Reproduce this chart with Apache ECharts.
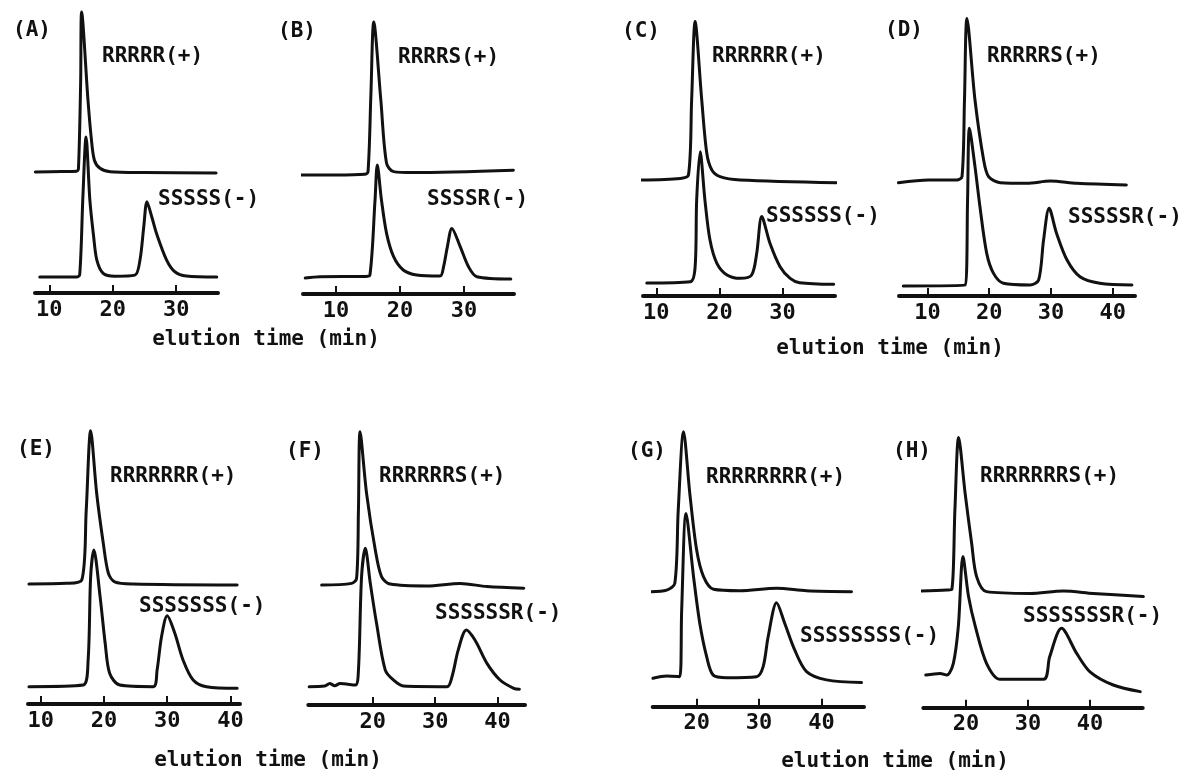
<!DOCTYPE html>
<html>
<head>
<meta charset="utf-8">
<script src="https://cdn.jsdelivr.net/npm/echarts@6/dist/echarts.min.js"></script>
<style>
  html, body { margin: 0; padding: 0; background: #fff; }
  #chart { width: 1186px; height: 777px; }
</style>
</head>
<body>
<div id="chart"></div>
<script>
// ---------------- DATA (elution time in min, detector signal in arbitrary units) ----------------
const panelNames = ['(A)', '(B)', '(C)', '(D)', '(E)', '(F)', '(G)', '(H)'];
const plusLabels = ['RRRRR(+)', 'RRRRS(+)', 'RRRRRR(+)', 'RRRRRS(+)', 'RRRRRRR(+)', 'RRRRRRS(+)', 'RRRRRRRR(+)', 'RRRRRRRS(+)'];
const minusLabels = ['SSSSS(-)', 'SSSSR(-)', 'SSSSSS(-)', 'SSSSSR(-)', 'SSSSSSS(-)', 'SSSSSSR(-)', 'SSSSSSSS(-)', 'SSSSSSSR(-)'];
const axisTitle = 'elution time (min)';

const ticksA = [10, 20, 30];
const ticksB = [10, 20, 30];
const ticksC = [10, 20, 30];
const ticksD = [10, 20, 30, 40];
const ticksE = [10, 20, 30, 40];
const ticksF = [20, 30, 40];
const ticksG = [20, 30, 40];
const ticksH = [20, 30, 40];

const A_plus = [[7.8,0],[12,0.3],[14.3,0.5],[14.6,2],[14.95,57],[15.1,100],[16.1,45],[16.6,22],[17.1,7.5],[18,2.3],[19.6,0.2],[25,-0.3],[36.3,-0.6]];
const A_minus = [[8.5,0],[14.3,0],[14.8,1.5],[15.3,50],[15.8,87.5],[16.4,48],[17.0,25],[17.5,10.6],[18.5,2.3],[20.3,0.5],[23.5,1.2],[24.3,10.6],[24.9,31.5],[25.4,47],[26.2,37],[26.9,27.3],[28.5,10.6],[29.8,3.3],[31.6,0.6],[36.4,0]];

const B_plus = [[4.1,0],[10,0],[14.5,0.5],[15.0,2],[15.45,50],[15.9,95.6],[17.0,46.9],[17.9,7.3],[19.0,2.1],[22.1,1.5],[37.7,3]];
const B_minus = [[5.2,0],[7.5,0.8],[14.5,1],[15.3,1.9],[16.1,48.8],[16.45,70.6],[17.1,48.8],[17.9,27.9],[19.0,13.3],[20.5,5],[22.6,1.9],[26.25,1.25],[26.8,7],[27.4,19.6],[28.1,31],[29.4,19.6],[30.7,7],[32,0.8],[37.3,-0.6]];

const C_plus = [[7.5,0],[13.8,1.0],[15.1,3.1],[15.6,50],[16.15,99],[17.2,50],[18.0,16.7],[18.8,6.25],[20.1,2.1],[23.3,0],[38.5,-1.7]];
const C_minus = [[8.5,0],[15.4,0.8],[16.15,10],[16.4,52],[16.95,82],[17.7,52],[18.5,27],[19.6,12.3],[21.2,5],[23.3,2.9],[25.1,5],[25.9,18.5],[26.7,41.5],[28.0,24.8],[29.6,10.2],[31.2,2.9],[32.7,0.2],[38.1,-0.8]];

const D_plus = [[5.3,0],[10.2,1.7],[14.75,1.7],[15.6,3.8],[16.0,51.7],[16.4,102.7],[17.7,51.7],[19.1,14.2],[19.9,3.75],[21.8,0],[26.1,-0.4],[29.9,1.0],[34.2,-0.4],[42.2,-1.4]];
const D_minus = [[6.1,0],[16.1,0.6],[16.5,53.75],[16.8,98.6],[17.7,74.6],[18.5,49.6],[19.6,20.4],[20.7,7.9],[22.3,1.7],[26.6,0.6],[28.0,3.75],[28.8,28.75],[29.7,48.6],[30.9,33],[32.6,16.25],[34.7,5.8],[37.9,1.7],[43.1,0.6]];

const E_plus = [[8.15,0],[14.1,0.4],[16.5,2.5],[17.2,46],[17.9,95.8],[18.85,56.7],[19.9,25.4],[20.7,6.7],[21.7,1.4],[24.6,0],[41.05,-0.6]];
const E_minus = [[8.15,0],[16.7,1],[17.5,16.7],[17.9,68.75],[18.4,85.4],[19.4,56],[20.2,27],[20.9,8.4],[22.5,1],[27.8,0],[28.4,10.4],[29.1,31.25],[30.0,44.4],[31.2,33.4],[32.5,16.7],[34.1,4.2],[36.2,0],[41.05,-1]];

const F_plus = [[11.8,0],[16.6,1],[17.4,4.2],[17.7,47],[17.96,95.8],[19.0,57.3],[20.4,21.9],[21.4,5.2],[22.8,0.6],[28.7,-0.6],[34.0,1],[38.3,-1],[44.2,-2]];
const F_minus = [[9.8,0],[12.3,0.4],[13.1,2],[13.9,0.6],[14.75,2],[17.2,1],[17.7,10.4],[18.2,68.75],[18.8,86.5],[19.6,64.6],[20.6,39.6],[22.0,10.4],[23.3,4.2],[24.9,0.4],[31.9,0],[32.7,6.25],[33.7,23],[35.0,35.4],[36.4,29],[38.3,14.6],[40.4,4.2],[42.6,-1],[43.5,-1.6]];

const G_plus = [[12.5,0],[15.2,1],[16.5,5.2],[17.05,51],[17.9,100],[18.9,61.5],[20,26],[21.1,9.4],[22.7,1.5],[26.9,0.6],[32.8,2.1],[37.6,0.6],[44.8,0]];
const G_minus = [[13,0],[15.2,1.4],[17.3,1],[17.6,42.7],[18.3,103],[19.5,63.5],[20.5,34.4],[21.6,13.5],[22.65,2],[24.8,0.4],[29.6,1],[30.65,7.25],[31.45,26],[32.8,47.25],[34.1,34.4],[35.7,17.7],[37.6,4.2],[40.8,-1],[46.4,-2.7]];

const H_plus = [[12.3,0],[16.9,0.6],[17.7,1],[18.2,50.6],[18.8,96],[19.85,61],[20.9,29.8],[21.7,9],[23.3,-0.4],[30.3,-1.5],[35.7,0],[40.5,-1.5],[48.6,-3.5]];
const H_minus = [[13.5,0],[15.8,1],[16.9,0],[17.95,7.3],[18.75,30.2],[19.5,74],[20.4,49],[21.5,30.2],[23.3,7.3],[25.5,-2.7],[32.5,-2.7],[33.5,11.5],[35.4,29.2],[37.85,13.5],[40,2],[43.75,-6.25],[48.1,-10.4]];

const plusTraces = [A_plus, B_plus, C_plus, D_plus, E_plus, F_plus, G_plus, H_plus];
const minusTraces = [A_minus, B_minus, C_minus, D_minus, E_minus, F_minus, G_minus, H_minus];
const tickSets = [ticksA, ticksB, ticksC, ticksD, ticksE, ticksF, ticksG, ticksH];

// ---------------- LAYOUT (pixels) ----------------
const W = 1186, H = 777;
const K = 1.6; // px per signal unit
const layout = [
  { x0: 35,    x1: 218,    min: 7.75,  max: 36.6, axisY: 293,   upBL: 172,   loBL: 277 },
  { x0: 303,   x1: 514,    min: 4.85,  max: 37.8, axisY: 294,   upBL: 175,   loBL: 278 },
  { x0: 643,   x1: 835,    min: 7.9,   max: 38.3, axisY: 296,   upBL: 180,   loBL: 283 },
  { x0: 899,   x1: 1135,   min: 5.4,   max: 43.6, axisY: 296,   upBL: 182.7, loBL: 286 },
  { x0: 28,    x1: 240,    min: 8.0,   max: 41.5, axisY: 704,   upBL: 584,   loBL: 686.7 },
  { x0: 308.3, x1: 525,    min: 9.66,  max: 44.4, axisY: 705,   upBL: 585,   loBL: 686.7 },
  { x0: 652.7, x1: 864,    min: 12.96, max: 46.8, axisY: 706.7, upBL: 591.7, loBL: 678.3 },
  { x0: 923.3, x1: 1142.7, min: 13.1,  max: 48.5, axisY: 707.7, upBL: 591,   loBL: 675 }
];
const letterPos = [[13,31],[278,32],[622,32],[885,31],[17,450],[286,452],[628,452],[893,452]];
const plusPos = [[102,57],[398,58],[712,57],[987,57],[110,477],[379,477],[706,478],[980,477]];
const minusPos = [[158,200],[427,200],[766,217],[1068,218],[139,607],[435,614],[800,637],[1023,617]];
const captionPos = [[266,340],[890,349],[268,761],[895,762]];

const FONT = '"DejaVu Sans Mono", "Liberation Mono", monospace';
const INK = '#111';

const grids = [], xAxes = [], yAxes = [], series = [], graphics = [];
layout.forEach((L, i) => {
  const yTop = 100;
  // lower trace grid (visible x axis)
  grids.push({ left: L.x0, width: L.x1 - L.x0, top: L.loBL - yTop * K, height: (L.axisY - L.loBL) + yTop * K });
  xAxes.push({
    type: 'value', gridIndex: 2 * i, min: L.min, max: L.max, position: 'bottom',
    axisLine: { show: true, onZero: false, lineStyle: { color: INK, width: 4 } },
    axisTick: { show: true, inside: true, length: 8, lineStyle: { color: INK, width: 2 }, customValues: tickSets[i] },
    axisLabel: { show: true, margin: 6, color: INK, fontSize: 22, fontFamily: FONT, fontWeight: 'bold', customValues: tickSets[i] },
    splitLine: { show: false }
  });
  yAxes.push({ type: 'value', gridIndex: 2 * i, min: -(L.axisY - L.loBL) / K, max: yTop, show: false });
  // upper trace grid (hidden axes)
  grids.push({ left: L.x0, width: L.x1 - L.x0, top: L.upBL - yTop * K, height: yTop * K });
  xAxes.push({ type: 'value', gridIndex: 2 * i + 1, min: L.min, max: L.max, show: false });
  yAxes.push({ type: 'value', gridIndex: 2 * i + 1, min: 0, max: yTop, show: false });

  const lineCommon = { type: 'line', showSymbol: false, symbol: 'none', clip: false, silent: true, animation: false,
    smooth: 0.3, lineStyle: { color: INK, width: 3, join: 'round', cap: 'round' } };
  series.push(Object.assign({}, lineCommon, { name: minusLabels[i], xAxisIndex: 2 * i, yAxisIndex: 2 * i, data: minusTraces[i] }));
  series.push(Object.assign({}, lineCommon, { name: plusLabels[i], xAxisIndex: 2 * i + 1, yAxisIndex: 2 * i + 1, data: plusTraces[i] }));

  graphics.push({ type: 'text', x: letterPos[i][0], y: letterPos[i][1], silent: true,
    style: { text: panelNames[i], font: 'bold 21px ' + FONT, fill: INK, align: 'left', verticalAlign: 'middle' } });
  graphics.push({ type: 'text', x: plusPos[i][0], y: plusPos[i][1], silent: true,
    style: { text: plusLabels[i], font: 'bold 21px ' + FONT, fill: INK, align: 'left', verticalAlign: 'middle' } });
  graphics.push({ type: 'text', x: minusPos[i][0], y: minusPos[i][1], silent: true,
    style: { text: minusLabels[i], font: 'bold 21px ' + FONT, fill: INK, align: 'left', verticalAlign: 'middle' } });
});
captionPos.forEach(p => {
  graphics.push({ type: 'text', x: p[0], y: p[1], silent: true,
    style: { text: axisTitle, font: 'bold 21px ' + FONT, fill: INK, align: 'center', verticalAlign: 'middle' } });
});

const chart = echarts.init(document.getElementById('chart'), null, { renderer: 'canvas', width: W, height: H });
chart.setOption({
  backgroundColor: '#ffffff',
  animation: false,
  grid: grids,
  xAxis: xAxes,
  yAxis: yAxes,
  series: series,
  graphic: graphics
});
</script>
</body>
</html>
